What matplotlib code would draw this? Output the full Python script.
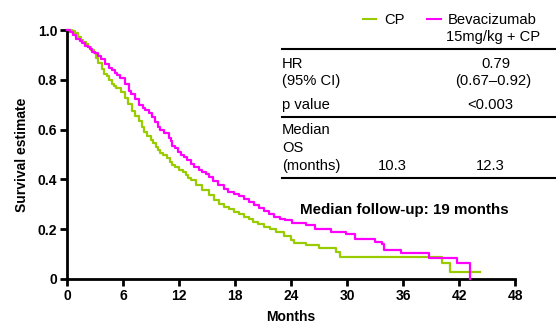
import matplotlib
matplotlib.use("Agg")
from matplotlib import pyplot as plt

plt.rcParams['font.family'] = ['Liberation Sans', 'DejaVu Sans']

# Kaplan-Meier steps (months, survival)
cp_t = [0, 0.5, 0.86, 1.2, 1.5, 1.75, 2.0, 2.3, 2.6, 2.85, 3.1, 3.36, 3.7, 4.0,
        4.25, 4.5, 4.8, 5.05, 5.3, 5.8, 6.2, 6.57, 6.93, 7.3, 7.7, 8.0, 8.25,
        8.6, 8.96, 9.2, 9.5, 9.75, 10.0, 10.3, 10.75, 11.0, 11.3, 11.6, 12.0,
        12.4, 12.7, 13.0, 13.25, 13.8, 14.5, 15.2, 15.75, 16.3, 16.8, 17.4,
        17.9, 18.4, 19.0, 19.5, 19.9, 20.5, 21.1, 21.7, 22.4, 23.25, 23.96,
        24.3, 25.6, 27.0, 28.8, 29.2, 40.2, 41.0, 44.3]
cp_s = [1.0, 0.995, 0.989, 0.97, 0.96, 0.95, 0.942, 0.93, 0.918, 0.909, 0.889,
        0.869, 0.845, 0.825, 0.815, 0.80, 0.785, 0.775, 0.766, 0.75, 0.728,
        0.702, 0.675, 0.655, 0.635, 0.61, 0.592, 0.575, 0.558, 0.545, 0.531,
        0.518, 0.505, 0.497, 0.485, 0.47, 0.458, 0.449, 0.438, 0.428, 0.418,
        0.405, 0.397, 0.378, 0.357, 0.337, 0.318, 0.303, 0.29, 0.28, 0.27,
        0.26, 0.25, 0.24, 0.23, 0.22, 0.21, 0.20, 0.19, 0.172, 0.157, 0.145,
        0.136, 0.123, 0.108, 0.088, 0.064, 0.028, 0.028]

bev_t = [0, 0.3, 0.6, 1.0, 1.4, 1.64, 1.93, 2.2, 2.46, 2.7, 3.0, 3.3, 3.6, 4.07,
         4.5, 4.8, 5.14, 5.4, 5.7, 6.2, 6.64, 6.9, 7.29, 7.7, 8.1, 8.4, 8.8, 9.1,
         9.4, 9.7, 10.0, 10.4, 10.9, 11.1, 11.3, 11.6, 11.9, 12.2, 12.5, 12.9,
         13.3, 13.6, 14.1, 14.5, 14.9, 15.2, 15.6, 16.2, 16.8, 17.3, 17.9, 18.4,
         19.0, 19.5, 20.0, 20.6, 21.1, 21.6, 22.2, 22.8, 23.4, 24.1, 25.6, 26.6,
         28.3, 29.9, 30.9, 33.0, 33.8, 34.0, 35.8, 38.8, 41.8, 43.2]
bev_s = [1.0, 0.99, 0.98, 0.965, 0.956, 0.946, 0.936, 0.93, 0.922, 0.913, 0.906,
         0.895, 0.884, 0.862, 0.846, 0.838, 0.829, 0.818, 0.806, 0.782, 0.757,
         0.742, 0.722, 0.70, 0.688, 0.677, 0.665, 0.652, 0.632, 0.612, 0.60,
         0.585, 0.568, 0.555, 0.535, 0.525, 0.512, 0.498, 0.488, 0.476, 0.462,
         0.451, 0.438, 0.43, 0.42, 0.41, 0.393, 0.378, 0.363, 0.351, 0.342,
         0.334, 0.322, 0.31, 0.297, 0.285, 0.275, 0.262, 0.25, 0.242, 0.236,
         0.225, 0.215, 0.20, 0.19, 0.181, 0.16, 0.15, 0.14, 0.116, 0.104, 0.084,
         0.064, 0.0]

x_ticks = [0, 6, 12, 18, 24, 30, 36, 42, 48]
y_ticks = [0, 0.2, 0.4, 0.6, 0.8, 1.0]
y_ticklabels = ['0', '0.2', '0.4', '0.6', '0.8', '1.0']

green = '#99cc00'
magenta = '#ff00ff'

fig = plt.figure(figsize=(5.56, 3.24), dpi=100)
ax = fig.add_axes([67 / 556, 45 / 324, 448 / 556, 249 / 324])

ax.plot(cp_t, cp_s, drawstyle='steps-post', color=green, lw=1.6, clip_on=False, zorder=3)
ax.plot(bev_t, bev_s, drawstyle='steps-post', color=magenta, lw=1.6, clip_on=False, zorder=4)

ax.set_xlim(0, 48)
ax.set_ylim(0, 1.0)
ax.set_xticks(x_ticks)
ax.set_xticklabels([str(v) for v in x_ticks])
ax.set_yticks(y_ticks)
ax.set_yticklabels(y_ticklabels)
for s in ['top', 'right']:
    ax.spines[s].set_visible(False)
for s in ['left', 'bottom']:
    ax.spines[s].set_linewidth(2)
ax.tick_params(direction='out', length=5, width=2, labelsize=10, pad=2)
for lab in ax.get_xticklabels() + ax.get_yticklabels():
    lab.set_fontweight('bold')
ax.set_xlabel('Months', fontsize=10, fontweight='bold', labelpad=5)
ax.set_ylabel('Survival estimate', fontsize=10, fontweight='bold', labelpad=6)

ax.text(300 / 556, 1 - 210 / 324, 'Median follow-up: 19 months', transform=fig.transFigure,
        fontsize=10.9, fontweight='bold', va='center', ha='left')

# legend + summary table (figure pixel coordinates)
def ftext(x, y, s, ha='left'):
    fig.text(x / 556, 1 - y / 324, s, fontsize=10.6, ha=ha, va='center')

def hline(y):
    fig.add_artist(plt.Line2D([282 / 556, 1.0], [1 - y / 324, 1 - y / 324],
                              color='black', lw=1.5, transform=fig.transFigure))

fig.add_artist(plt.Line2D([363 / 556, 376 / 556], [1 - 19 / 324] * 2, color=green, lw=1.5))
ftext(384, 20, 'CP')
fig.add_artist(plt.Line2D([427 / 556, 441 / 556], [1 - 19 / 324] * 2, color=magenta, lw=1.5))
ftext(448, 20, 'Bevacizumab')
ftext(493, 37.5, '15mg/kg + CP', ha='center')
hline(48.5)
ftext(282, 63.5, 'HR')
ftext(496, 63.5, '0.79', ha='center')
ftext(282, 81.5, '(95% CI)')
ftext(493, 81.5, '(0.67\u20130.92)', ha='center')
ftext(282, 105, 'p value')
ftext(490, 105, '<0.003', ha='center')
hline(117)
ftext(282, 130, 'Median')
ftext(282, 148, 'OS')
ftext(282, 166.5, '(months)')
ftext(392, 166.5, '10.3', ha='center')
ftext(490, 166.5, '12.3', ha='center')
hline(178)

fig.savefig('out.png', dpi=100)
